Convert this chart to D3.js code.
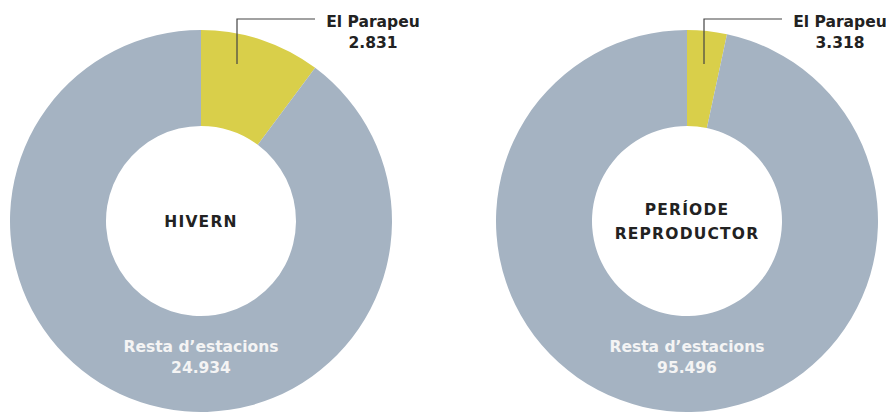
<!DOCTYPE html>
<html>
<head>
<meta charset="utf-8">
<script src="https://cdn.jsdelivr.net/npm/d3@7"></script>
<style>
  body { margin: 0; background: #fff; }
  svg text { font-family: "DejaVu Sans", sans-serif; font-weight: 700; }
</style>
</head>
<body>
<div id="chart"></div>
<script>
// data
const periods = ["HIVERN", "PERÍODE REPRODUCTOR"];
const categories = ["El Parapeu", "Resta d’estacions"];
const parapeuValues = [2831, 3318];
const restaValues = [24934, 95496];
const colors = ["#d9cf4a", "#a5b3c2"];

const svgWidth = 886, svgHeight = 412;
const outerR = 191, innerR = 95;
const fmt = d3.formatLocale({ decimal: ",", thousands: ".", grouping: [3], currency: ["", "€"] }).format(",d");

const svg = d3.select("#chart").append("svg")
  .attr("width", svgWidth)
  .attr("height", svgHeight);

const centerX = d3.scalePoint().domain(periods).range([201, 687]);
const cy = 221;

const pie = d3.pie().sort(null).value(d => d);
const arc = d3.arc().innerRadius(innerR).outerRadius(outerR);

periods.forEach((p, i) => {
  const cx = centerX(p);
  const g = svg.append("g").attr("transform", `translate(${cx},${cy})`);
  const data = [parapeuValues[i], restaValues[i]];

  g.selectAll("path")
    .data(pie(data))
    .enter()
    .append("path")
    .attr("d", arc)
    .attr("fill", (d, j) => colors[j]);

  // center title
  const words = p.split(" ");
  const title = g.append("text")
    .attr("text-anchor", "middle")
    .attr("fill", "#222")
    .style("font-size", "15.5px")
    .style("letter-spacing", "1.2px");
  words.forEach((w, k) => {
    title.append("tspan")
      .attr("x", 0)
      .attr("y", (k - (words.length - 1) / 2) * 24 + 6)
      .text(w);
  });

  // leader line for El Parapeu
  const xLine = i === 0 ? 36 : 17;
  g.append("path")
    .attr("d", `M${xLine},${64 - cy}V${19 - cy}H${xLine + 78}`)
    .attr("fill", "none")
    .attr("stroke", "#444")
    .attr("stroke-width", 1.2);

  const lab = g.append("text")
    .attr("text-anchor", "middle")
    .attr("fill", "#222")
    .style("font-size", "15.5px");
  lab.append("tspan").attr("x", xLine + 136).attr("y", 27 - cy).text(categories[0]);
  lab.append("tspan").attr("x", xLine + 136).attr("y", 48 - cy).text(fmt(parapeuValues[i]));

  const rest = g.append("text")
    .attr("text-anchor", "middle")
    .attr("fill", "#f4f4f4")
    .style("font-size", "15.5px");
  rest.append("tspan").attr("x", 0).attr("y", 352 - cy).text(categories[1]);
  rest.append("tspan").attr("x", 0).attr("y", 373 - cy).text(fmt(restaValues[i]));
});
</script>
</body>
</html>
